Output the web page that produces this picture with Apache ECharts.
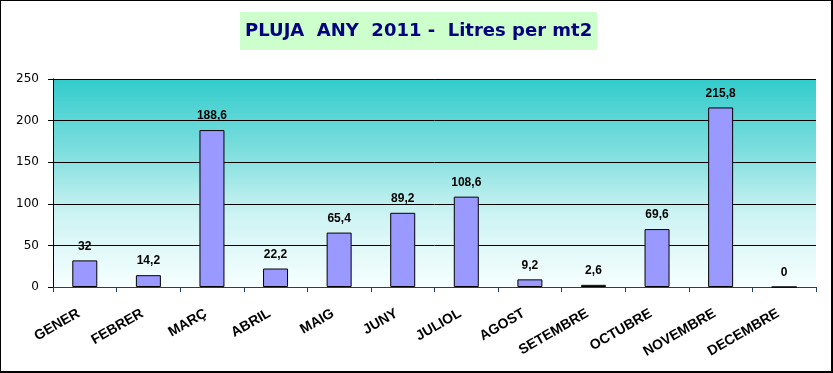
<!DOCTYPE html>
<html>
<head>
<meta charset="utf-8">
<script src="https://cdn.jsdelivr.net/npm/echarts@6/dist/echarts.min.js"></script>
<style>
html,body{margin:0;padding:0;background:#fff;}
#c{width:833px;height:373px;box-sizing:border-box;border:1px solid #000;border-right-width:2px;border-bottom-width:2px;}
</style>
</head>
<body>
<div id="c"></div>
<script>
const titleText = 'PLUJA  ANY  2011 -  Litres per mt2';
const months = ['GENER','FEBRER','MARÇ','ABRIL','MAIG','JUNY','JULIOL','AGOST','SETEMBRE','OCTUBRE','NOVEMBRE','DECEMBRE'];
const rain = [32, 14.2, 188.6, 22.2, 65.4, 89.2, 108.6, 9.2, 2.6, 69.6, 215.8, 0];
const yTicks = [0, 50, 100, 150, 200, 250];

const font = '"Liberation Sans", Arial, sans-serif';
const wideFont = '"DejaVu Sans", sans-serif';
const chart = echarts.init(document.getElementById('c'));
chart.setOption({
  animation: false,
  title: {
    text: titleText,
    left: 239,
    top: 11,
    padding: [10, 5, 10, 5],
    backgroundColor: '#ccffcc',
    textStyle: { fontFamily: wideFont, fontSize: 18, fontWeight: 'bold', color: '#000080' }
  },
  grid: {
    left: 52, right: 15, top: 78, bottom: 84,
    show: true,
    borderWidth: 0,
    backgroundColor: new echarts.graphic.LinearGradient(0, 0, 0, 1, [
      { offset: 0, color: '#33cccc' },
      { offset: 0.35, color: '#7fdede' },
      { offset: 0.65, color: '#cdf3f3' },
      { offset: 1, color: '#f7ffff' }
    ])
  },
  xAxis: {
    type: 'category',
    data: months,
    boundaryGap: true,
    axisLine: { lineStyle: { color: '#1f3f6f', width: 1 } },
    axisTick: { show: true, alignWithLabel: false, length: 5, lineStyle: { color: '#1f3f6f' } },
    axisLabel: {
      rotate: 30, interval: 0, margin: 22,
      padding: [0, 7, 0, 0],
      fontFamily: font, fontSize: 14, fontWeight: 'bold', color: '#000'
    }
  },
  yAxis: {
    type: 'value',
    min: yTicks[0], max: yTicks[yTicks.length - 1], interval: 50,
    axisLine: { show: true, lineStyle: { color: '#000', width: 1 } },
    axisTick: { show: true, length: 5, lineStyle: { color: '#000' } },
    axisLabel: { fontFamily: wideFont, fontSize: 12, color: '#000', margin: 14 },
    splitLine: { show: true, lineStyle: { color: '#000', width: 1 } }
  },
  series: [{
    type: 'bar',
    data: rain,
    barWidth: 25,
    itemStyle: { color: '#9999ff', borderColor: '#000', borderWidth: 1 },
    label: {
      show: true, position: 'top', distance: 8,
      fontFamily: font, fontSize: 12, fontWeight: 'bold', color: '#000',
      formatter: p => String(p.value).replace('.', ',')
    }
  }]
});
</script>
</body>
</html>
